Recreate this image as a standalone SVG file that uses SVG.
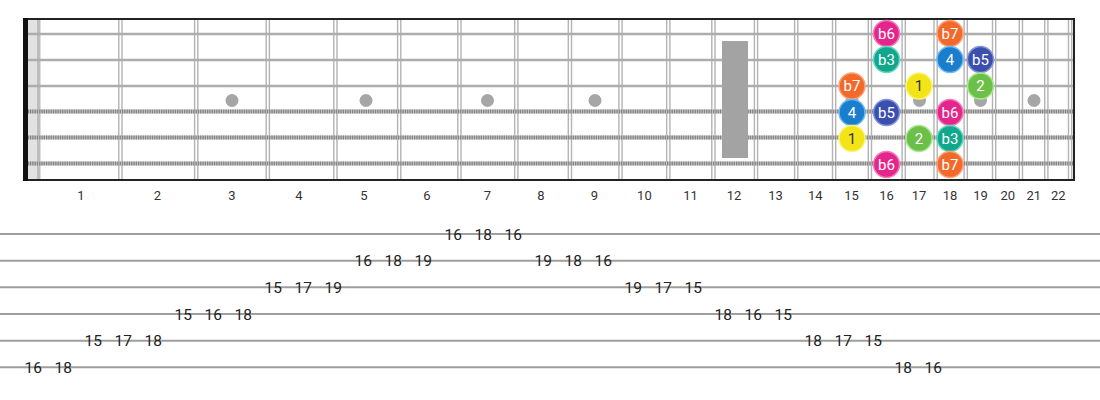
<svg xmlns="http://www.w3.org/2000/svg" width="1100" height="400" viewBox="0 0 1100 400">
<style>
.fw{stroke:#b3b3b3;stroke-width:1.4}
.ps{stroke:#adadad;stroke-width:2.6}
.wsb{stroke:#c4c4c4;stroke-width:4}
.wsd{stroke:#858585;stroke-width:4;stroke-dasharray:1.3 1}
.dot{fill:#a6a6a6}
.fn{font-family:Roboto,"Liberation Sans",sans-serif;font-size:13px;fill:#333;text-anchor:middle}
.nt{font-family:Roboto,"Liberation Sans",sans-serif;font-size:15px;fill:#fff;text-anchor:middle}
.tl{stroke:#9e9e9e;stroke-width:2}
.tn{font-family:Roboto,"Liberation Sans",sans-serif;font-size:15.5px;fill:#222;text-anchor:middle}
.b6{fill:#e5258b;stroke:#f27cb8;stroke-width:1.5}
.b7{fill:#f2692b;stroke:#f9a475;stroke-width:1.5}
.b3{fill:#10a78c;stroke:#66d8c0;stroke-width:1.5}
.n4{fill:#1a7ecf;stroke:#70b8f0;stroke-width:1.5}
.b5{fill:#3b50ad;stroke:#8494e0;stroke-width:1.5}
.n1{fill:#f3e417;stroke:#fbf37c;stroke-width:1.5}
.n2{fill:#6cbf48;stroke:#a9e98f;stroke-width:1.5}
</style>
<g id="fretboard">
<rect x="28" y="19" width="9" height="161" fill="#e2e2e2"/>
<rect x="37" y="19" width="3.5" height="161" fill="#bdbdbd"/>
<g id="frets">
<line class="fw" x1="118.8" y1="19" x2="118.8" y2="180"/><line class="fw" x1="122" y1="19" x2="122" y2="180"/>
<line class="fw" x1="194.6" y1="19" x2="194.6" y2="180"/><line class="fw" x1="197.8" y1="19" x2="197.8" y2="180"/>
<line class="fw" x1="266.2" y1="19" x2="266.2" y2="180"/><line class="fw" x1="269.4" y1="19" x2="269.4" y2="180"/>
<line class="fw" x1="333.8" y1="19" x2="333.8" y2="180"/><line class="fw" x1="337" y1="19" x2="337" y2="180"/>
<line class="fw" x1="397.6" y1="19" x2="397.6" y2="180"/><line class="fw" x1="400.8" y1="19" x2="400.8" y2="180"/>
<line class="fw" x1="457.8" y1="19" x2="457.8" y2="180"/><line class="fw" x1="461" y1="19" x2="461" y2="180"/>
<line class="fw" x1="514.7" y1="19" x2="514.7" y2="180"/><line class="fw" x1="517.9" y1="19" x2="517.9" y2="180"/>
<line class="fw" x1="568.3" y1="19" x2="568.3" y2="180"/><line class="fw" x1="571.5" y1="19" x2="571.5" y2="180"/>
<line class="fw" x1="618.9" y1="19" x2="618.9" y2="180"/><line class="fw" x1="622.1" y1="19" x2="622.1" y2="180"/>
<line class="fw" x1="666.7" y1="19" x2="666.7" y2="180"/><line class="fw" x1="669.9" y1="19" x2="669.9" y2="180"/>
<line class="fw" x1="711.8" y1="19" x2="711.8" y2="180"/><line class="fw" x1="715" y1="19" x2="715" y2="180"/>
<line class="fw" x1="754.4" y1="19" x2="754.4" y2="180"/><line class="fw" x1="757.6" y1="19" x2="757.6" y2="180"/>
<line class="fw" x1="794.6" y1="19" x2="794.6" y2="180"/><line class="fw" x1="797.8" y1="19" x2="797.8" y2="180"/>
<line class="fw" x1="832.5" y1="19" x2="832.5" y2="180"/><line class="fw" x1="835.7" y1="19" x2="835.7" y2="180"/>
<line class="fw" x1="868.3" y1="19" x2="868.3" y2="180"/><line class="fw" x1="871.5" y1="19" x2="871.5" y2="180"/>
<line class="fw" x1="902.1" y1="19" x2="902.1" y2="180"/><line class="fw" x1="905.3" y1="19" x2="905.3" y2="180"/>
<line class="fw" x1="934" y1="19" x2="934" y2="180"/><line class="fw" x1="937.2" y1="19" x2="937.2" y2="180"/>
<line class="fw" x1="964.1" y1="19" x2="964.1" y2="180"/><line class="fw" x1="967.3" y1="19" x2="967.3" y2="180"/>
<line class="fw" x1="992.5" y1="19" x2="992.5" y2="180"/><line class="fw" x1="995.7" y1="19" x2="995.7" y2="180"/>
<line class="fw" x1="1019.3" y1="19" x2="1019.3" y2="180"/><line class="fw" x1="1022.5" y1="19" x2="1022.5" y2="180"/>
<line class="fw" x1="1044.7" y1="19" x2="1044.7" y2="180"/><line class="fw" x1="1047.9" y1="19" x2="1047.9" y2="180"/>
<line class="fw" x1="1068.5" y1="19" x2="1068.5" y2="180"/><line class="fw" x1="1071.7" y1="19" x2="1071.7" y2="180"/>
</g>
<g id="inlays">
<circle class="dot" cx="232" cy="100.5" r="6.5"/>
<circle class="dot" cx="366" cy="100.5" r="6.5"/>
<circle class="dot" cx="487.5" cy="100.5" r="6.5"/>
<circle class="dot" cx="595" cy="100.5" r="6.5"/>
<circle class="dot" cx="852" cy="100.5" r="6.5"/>
<circle class="dot" cx="919.5" cy="100.5" r="6.5"/>
<circle class="dot" cx="980.5" cy="100.5" r="6.5"/>
<circle class="dot" cx="1034" cy="100.5" r="6.5"/>
</g>
<g id="strings">
<line class="ps" x1="23" y1="34" x2="1075" y2="34"/>
<line class="ps" x1="23" y1="60" x2="1075" y2="60"/>
<line class="ps" x1="23" y1="86" x2="1075" y2="86"/>
<line class="wsb" x1="23" y1="111.5" x2="1075" y2="111.5"/><line class="wsd" x1="23" y1="111.5" x2="1075" y2="111.5"/>
<line class="wsb" x1="23" y1="137.5" x2="1075" y2="137.5"/><line class="wsd" x1="23" y1="137.5" x2="1075" y2="137.5"/>
<line class="wsb" x1="23" y1="163.5" x2="1075" y2="163.5"/><line class="wsd" x1="23" y1="163.5" x2="1075" y2="163.5"/>
</g>
<rect x="722" y="41" width="26" height="117" fill="#a3a3a3"/>
<line x1="23" y1="19" x2="1075" y2="19" stroke="#222" stroke-width="2"/>
<line x1="23" y1="180" x2="1075" y2="180" stroke="#222" stroke-width="2"/>
<line x1="1074" y1="19" x2="1074" y2="181" stroke="#222" stroke-width="2"/>
<rect x="23" y="18" width="5" height="163" fill="#111"/>
</g>
<g id="fret-numbers">
<text class="fn" x="81" y="199.5">1</text>
<text class="fn" x="157.5" y="199.5">2</text>
<text class="fn" x="232" y="199.5">3</text>
<text class="fn" x="299" y="199.5">4</text>
<text class="fn" x="364" y="199.5">5</text>
<text class="fn" x="427" y="199.5">6</text>
<text class="fn" x="487.5" y="199.5">7</text>
<text class="fn" x="541" y="199.5">8</text>
<text class="fn" x="594.5" y="199.5">9</text>
<text class="fn" x="644.4" y="199.5">10</text>
<text class="fn" x="690.5" y="199.5">11</text>
<text class="fn" x="734" y="199.5">12</text>
<text class="fn" x="775.5" y="199.5">13</text>
<text class="fn" x="815.2" y="199.5">14</text>
<text class="fn" x="851.5" y="199.5">15</text>
<text class="fn" x="886.5" y="199.5">16</text>
<text class="fn" x="919" y="199.5">17</text>
<text class="fn" x="950" y="199.5">18</text>
<text class="fn" x="980.5" y="199.5">19</text>
<text class="fn" x="1007.8" y="199.5">20</text>
<text class="fn" x="1033.8" y="199.5">21</text>
<text class="fn" x="1058.2" y="199.5">22</text>
</g>
<g id="notes">
<g id="n-s1-f16"><circle class="b6" cx="886.5" cy="33.5" r="13"/><text class="nt" x="886.5" y="38.8">b6</text></g>
<g id="n-s1-f18"><circle class="b7" cx="950" cy="33.5" r="13"/><text class="nt" x="950" y="38.8">b7</text></g>
<g id="n-s2-f16"><circle class="b3" cx="886.5" cy="59.5" r="13"/><text class="nt" x="886.5" y="64.8">b3</text></g>
<g id="n-s2-f18"><circle class="n4" cx="950" cy="59.5" r="13"/><text class="nt" x="950" y="64.8">4</text></g>
<g id="n-s2-f19"><circle class="b5" cx="980.5" cy="59.5" r="13"/><text class="nt" x="980.5" y="64.8">b5</text></g>
<g id="n-s3-f15"><circle class="b7" cx="852" cy="86" r="13"/><text class="nt" x="852" y="91.3">b7</text></g>
<g id="n-s3-f17"><circle class="n1" cx="919" cy="86" r="13"/><text class="nt" x="919" y="91.3" style="fill:#333">1</text></g>
<g id="n-s3-f19"><circle class="n2" cx="980.5" cy="86" r="13"/><text class="nt" x="980.5" y="91.3">2</text></g>
<g id="n-s4-f15"><circle class="n4" cx="852" cy="112.5" r="13"/><text class="nt" x="852" y="117.8">4</text></g>
<g id="n-s4-f16"><circle class="b5" cx="886.5" cy="112.5" r="13"/><text class="nt" x="886.5" y="117.8">b5</text></g>
<g id="n-s4-f18"><circle class="b6" cx="950" cy="112.5" r="13"/><text class="nt" x="950" y="117.8">b6</text></g>
<g id="n-s5-f15"><circle class="n1" cx="852" cy="138.5" r="13"/><text class="nt" x="852" y="143.8" style="fill:#333">1</text></g>
<g id="n-s5-f17"><circle class="n2" cx="919" cy="138.5" r="13"/><text class="nt" x="919" y="143.8">2</text></g>
<g id="n-s5-f18"><circle class="b3" cx="950" cy="138.5" r="13"/><text class="nt" x="950" y="143.8">b3</text></g>
<g id="n-s6-f16"><circle class="b6" cx="886.5" cy="164.5" r="13"/><text class="nt" x="886.5" y="169.8">b6</text></g>
<g id="n-s6-f18"><circle class="b7" cx="950" cy="164.5" r="13"/><text class="nt" x="950" y="169.8">b7</text></g>
</g>
<g id="tab-lines">
<line class="tl" x1="0" y1="234" x2="1100" y2="234"/>
<line class="tl" x1="0" y1="260.7" x2="1100" y2="260.7"/>
<line class="tl" x1="0" y1="287.3" x2="1100" y2="287.3"/>
<line class="tl" x1="0" y1="314" x2="1100" y2="314"/>
<line class="tl" x1="0" y1="340.7" x2="1100" y2="340.7"/>
<line class="tl" x1="0" y1="367.3" x2="1100" y2="367.3"/>
</g>
<g id="tab-numbers">
<text class="tn" x="33.3" y="372.8">16</text>
<text class="tn" x="63.3" y="372.8">18</text>
<text class="tn" x="93.3" y="346.2">15</text>
<text class="tn" x="123.3" y="346.2">17</text>
<text class="tn" x="153.3" y="346.2">18</text>
<text class="tn" x="183.3" y="319.5">15</text>
<text class="tn" x="213.3" y="319.5">16</text>
<text class="tn" x="243.3" y="319.5">18</text>
<text class="tn" x="273.3" y="292.8">15</text>
<text class="tn" x="303.3" y="292.8">17</text>
<text class="tn" x="333.3" y="292.8">19</text>
<text class="tn" x="363.3" y="266.2">16</text>
<text class="tn" x="393.3" y="266.2">18</text>
<text class="tn" x="423.3" y="266.2">19</text>
<text class="tn" x="453.3" y="239.5">16</text>
<text class="tn" x="483.3" y="239.5">18</text>
<text class="tn" x="513.3" y="239.5">16</text>
<text class="tn" x="543.3" y="266.2">19</text>
<text class="tn" x="573.3" y="266.2">18</text>
<text class="tn" x="603.3" y="266.2">16</text>
<text class="tn" x="633.3" y="292.8">19</text>
<text class="tn" x="663.3" y="292.8">17</text>
<text class="tn" x="693.3" y="292.8">15</text>
<text class="tn" x="723.3" y="319.5">18</text>
<text class="tn" x="753.3" y="319.5">16</text>
<text class="tn" x="783.3" y="319.5">15</text>
<text class="tn" x="813.3" y="346.2">18</text>
<text class="tn" x="843.3" y="346.2">17</text>
<text class="tn" x="873.3" y="346.2">15</text>
<text class="tn" x="903.3" y="372.8">18</text>
<text class="tn" x="933.3" y="372.8">16</text>
</g>
</svg>
